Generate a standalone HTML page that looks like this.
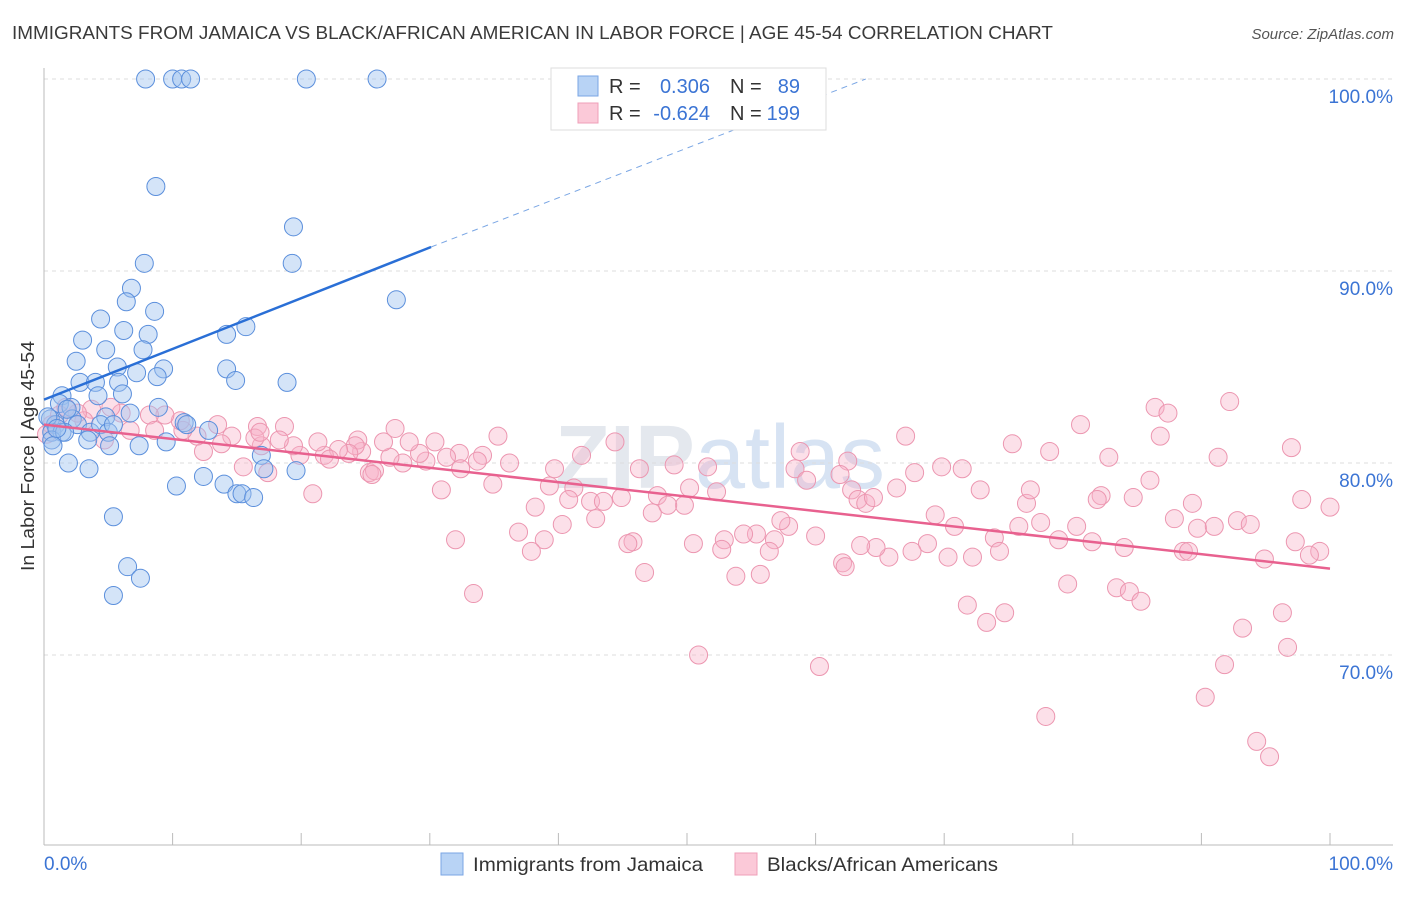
<!DOCTYPE html>
<html><head><meta charset="utf-8"><style>
body{margin:0;background:#fff;font-family:"Liberation Sans",sans-serif;}
svg text{font-family:"Liberation Sans",sans-serif;}
</style></head><body>
<svg id="chart" width="1406" height="892" xmlns="http://www.w3.org/2000/svg">
<text x="12" y="39" font-size="18.5" fill="#3a3a3a" textLength="1041" lengthAdjust="spacingAndGlyphs">IMMIGRANTS FROM JAMAICA VS BLACK/AFRICAN AMERICAN IN LABOR FORCE | AGE 45-54 CORRELATION CHART</text>
<text x="1394" y="39" font-size="15" fill="#555" font-style="italic" text-anchor="end">Source: ZipAtlas.com</text>
<text x="720" y="488" font-size="90" fill="#e4e8ee" text-anchor="middle" font-family="Liberation Serif" font-weight="bold">ZIP<tspan fill="#d7e3f3" font-family="Liberation Sans" font-weight="normal">atlas</tspan></text>
<g id="grid"></g>
<g id="axes"></g>
<g id="pink"></g>
<g id="blue"></g>
<g id="lines"></g>
<text transform="translate(34,456) rotate(-90)" font-size="18" fill="#333" text-anchor="middle" textLength="230" lengthAdjust="spacingAndGlyphs">In Labor Force | Age 45-54</text>
<g>
<rect x="551" y="68" width="275" height="62" fill="#fff" stroke="#ddd"/>
<rect x="578" y="76" width="20" height="20" fill="#b8d3f5" stroke="#7aa6e4"/>
<rect x="578" y="103" width="20" height="20" fill="#fbc9d8" stroke="#ef9fb8"/>
<text x="609" y="93" font-size="20" fill="#333">R =</text>
<text x="710" y="93" font-size="20" fill="#3b74d4" text-anchor="end">0.306</text>
<text x="730" y="93" font-size="20" fill="#333">N =</text>
<text x="800" y="93" font-size="20" fill="#3b74d4" text-anchor="end">89</text>
<text x="609" y="120" font-size="20" fill="#333">R =</text>
<text x="710" y="120" font-size="20" fill="#3b74d4" text-anchor="end">-0.624</text>
<text x="730" y="120" font-size="20" fill="#333">N =</text>
<text x="800" y="120" font-size="20" fill="#3b74d4" text-anchor="end">199</text>
</g>
<rect x="441" y="853" width="22" height="22" fill="#b8d3f5" stroke="#7aa6e4"/>
<text x="473" y="871" font-size="19.5" fill="#333" textLength="230" lengthAdjust="spacingAndGlyphs">Immigrants from Jamaica</text>
<rect x="735" y="853" width="22" height="22" fill="#fbc9d8" stroke="#ef9fb8"/>
<text x="767" y="871" font-size="19.5" fill="#333" textLength="231" lengthAdjust="spacingAndGlyphs">Blacks/African Americans</text>
</svg>
<script>
const yTicks=[100,90,80,70];
const yTickLabels=["100.0%","90.0%","80.0%","70.0%"];
const xTicks=[0,10,20,30,40,50,60,70,80,90,100];
const blueX=[7.9,10.0,10.7,11.4,20.4,25.9,8.7,7.8,19.4,19.3,6.8,6.4,8.6,27.4,4.4,6.2,8.1,15.7,14.2,3.0,4.8,7.7,2.5,5.7,7.2,9.3,14.2,14.9,2.8,4.0,5.8,8.8,18.9,1.4,6.1,4.2,1.2,2.1,4.8,8.9,6.7,0.5,0.9,0.6,1.4,2.2,2.6,0.6,1.6,3.6,4.4,5.0,5.4,3.4,5.1,7.4,9.5,10.9,11.1,12.8,1.9,3.5,0.7,16.9,17.1,19.6,10.3,12.4,14.0,15.0,15.4,16.3,5.4,6.5,7.5,5.4,0.3,1.0,1.8];
const blueY=[100,100,100,100,100,100,94.4,90.4,92.3,90.4,89.1,88.4,87.9,88.5,87.5,86.9,86.7,87.1,86.7,86.4,85.9,85.9,85.3,85.0,84.7,84.9,84.9,84.3,84.2,84.2,84.2,84.5,84.2,83.5,83.6,83.5,83.1,82.9,82.4,82.9,82.6,82.3,82.0,81.6,81.6,82.3,82.0,81.2,81.6,81.6,82.0,81.6,82.0,81.2,80.9,80.9,81.1,82.1,82.0,81.7,80.0,79.7,80.9,80.4,79.7,79.6,78.8,79.3,78.9,78.4,78.4,78.2,77.2,74.6,74.0,73.1,82.4,81.8,82.8];
const pinkX=[92.2,86.4,87.4,80.6,86.8,97.0,78.2,75.3,82.8,91.3,86.0,97.8,100,89.3,84.7,82.2,81.9,76.4,76.7,72.8,71.4,69.8,67.7,67.0,62.5,61.9,58.8,58.4,59.3,62.8,63.3,63.9,64.5,66.3,69.3,70.8,73.9,75.8,77.5,80.3,78.9,81.5,84.0,87.9,89.7,91.0,92.8,93.8,88.6,89.0,94.9,97.3,99.2,98.4,96.3,93.2,96.7,91.8,90.3,94.3,95.3,77.9,79.6,83.4,84.4,85.3,74.7,73.3,71.8,74.3,72.2,70.3,68.7,67.5,65.7,64.7,62.1,62.3,63.5,60.0,57.9,57.3,56.8,56.4,55.4,54.4,52.9,52.7,53.8,55.7,60.3,50.9,46.7,45.8,45.4,42.9,42.5,43.5,44.9,47.3,47.7,49.8,48.5,50.2,52.3,51.6,49.0,46.3,44.4,41.8,41.2,40.8,39.3,39.7,38.2,40.3,38.9,37.9,36.9,34.9,36.2,34.1,35.3,33.7,32.3,32.4,31.3,30.4,29.7,29.2,28.4,27.9,26.9,26.4,27.3,24.7,24.4,24.2,23.7,22.9,21.8,21.3,22.2,19.9,19.4,18.7,18.3,16.9,16.6,16.4,16.8,15.5,14.6,13.8,13.5,12.4,11.9,10.8,10.6,9.4,8.2,8.6,6.7,6.0,5.2,4.7,3.7,3.1,2.6,1.7,1.2,0.6,0.2,20.9,25.3,25.7,17.4,30.9,25.5,32.0,33.4,50.5];
const pinkY=[83.2,82.9,82.6,82.0,81.4,80.8,80.6,81.0,80.3,80.3,79.1,78.1,77.7,77.9,78.2,78.3,78.1,77.9,78.6,78.6,79.7,79.8,79.5,81.4,80.1,79.4,80.6,79.7,79.1,78.6,78.1,77.9,78.2,78.7,77.3,76.7,76.1,76.7,76.9,76.7,76.0,75.9,75.6,77.1,76.6,76.7,77.0,76.8,75.4,75.4,75.0,75.9,75.4,75.2,72.2,71.4,70.4,69.5,67.8,65.5,64.7,66.8,73.7,73.5,73.3,72.8,72.2,71.7,72.6,75.4,75.1,75.1,75.8,75.4,75.1,75.6,74.8,74.6,75.7,76.2,76.7,77.0,76.0,75.4,76.3,76.3,76.0,75.5,74.1,74.2,69.4,70.0,74.3,75.9,75.8,77.1,78.0,78.0,78.2,77.4,78.3,77.8,77.8,78.7,78.5,79.8,79.9,79.7,81.1,80.4,78.7,78.1,78.8,79.7,77.7,76.8,76.0,75.4,76.4,78.9,80.0,80.4,81.4,80.1,80.5,79.7,80.3,81.1,80.1,80.5,81.1,80.0,80.3,81.1,81.8,80.6,81.2,80.9,80.5,80.7,80.4,81.1,80.2,80.4,80.9,81.9,81.2,80.9,81.9,81.3,81.6,79.8,81.4,81.0,82.0,80.6,81.4,81.7,82.2,82.5,82.5,81.7,81.7,82.6,82.9,81.2,82.8,82.2,82.6,82.9,82.5,82.0,81.5,78.4,79.5,79.6,79.5,78.6,79.4,76.0,73.2,75.8];
const blueTrend=[0,83.3,30.1,91.25,63.9,100];
const pinkTrend=[0,82.0,100,74.5];
const NS="http://www.w3.org/2000/svg";
const X=v=>44+v*12.86;
const Y=v=>79+(100-v)*19.2;
function mk(tag,attrs,parent){const e=document.createElementNS(NS,tag);for(const k in attrs)e.setAttribute(k,attrs[k]);parent.appendChild(e);return e;}
const grid=document.getElementById('grid'),axes=document.getElementById('axes');
yTicks.forEach((t,i)=>{
 const l=mk('line',{x1:44,x2:1393,y1:Y(t),y2:Y(t),stroke:'#ddd','stroke-dasharray':'4,4'},grid);
 
 
 const tx=mk('text',{x:1393,y:Y(t)+24,'font-size':19,fill:'#3b74d4','text-anchor':'end'},axes);
 tx.textContent=yTickLabels[i];
 
 
});
const ax=mk('line',{x1:44,x2:1393,y1:845,y2:845,stroke:'#bbb'},axes);


const ay=mk('line',{x1:44,x2:44,y1:68,y2:845,stroke:'#bbb'},axes);


xTicks.forEach(t=>{
 const l=mk('line',{x1:X(t),x2:X(t),y1:833,y2:845,stroke:'#bbb'},axes);
 
 
});
const xl0=mk('text',{x:44,y:870,'font-size':19,fill:'#3b74d4'},axes);xl0.textContent='0.0%';


const xl1=mk('text',{x:1393,y:870,'font-size':19,fill:'#3b74d4','text-anchor':'end'},axes);xl1.textContent='100.0%';


const pg=document.getElementById('pink');
pinkX.forEach((v,i)=>{
 const c=mk('circle',{cx:X(v),cy:Y(pinkY[i]),r:9,fill:'rgba(248,178,200,0.4)',stroke:'#ec96b0','stroke-width':1},pg);
 
 
});
const bg=document.getElementById('blue');
blueX.forEach((v,i)=>{
 const c=mk('circle',{cx:X(v),cy:Y(blueY[i]),r:9,fill:'rgba(160,196,240,0.45)',stroke:'#5b8fdc','stroke-width':1},bg);
 
 
});
const lg=document.getElementById('lines');
const bl=mk('line',{x1:X(blueTrend[0]),y1:Y(blueTrend[1]),x2:X(blueTrend[2]),y2:Y(blueTrend[3]),stroke:'#2a6fd6','stroke-width':2.5},lg);


const bd=mk('line',{x1:X(blueTrend[2]),y1:Y(blueTrend[3]),x2:X(blueTrend[4]),y2:Y(blueTrend[5]),stroke:'#7aa6e4','stroke-width':1,'stroke-dasharray':'6,5'},lg);


const pl=mk('line',{x1:X(pinkTrend[0]),y1:Y(pinkTrend[1]),x2:X(pinkTrend[2]),y2:Y(pinkTrend[3]),stroke:'#e8618f','stroke-width':2.5},lg);


</script>
</body></html>
